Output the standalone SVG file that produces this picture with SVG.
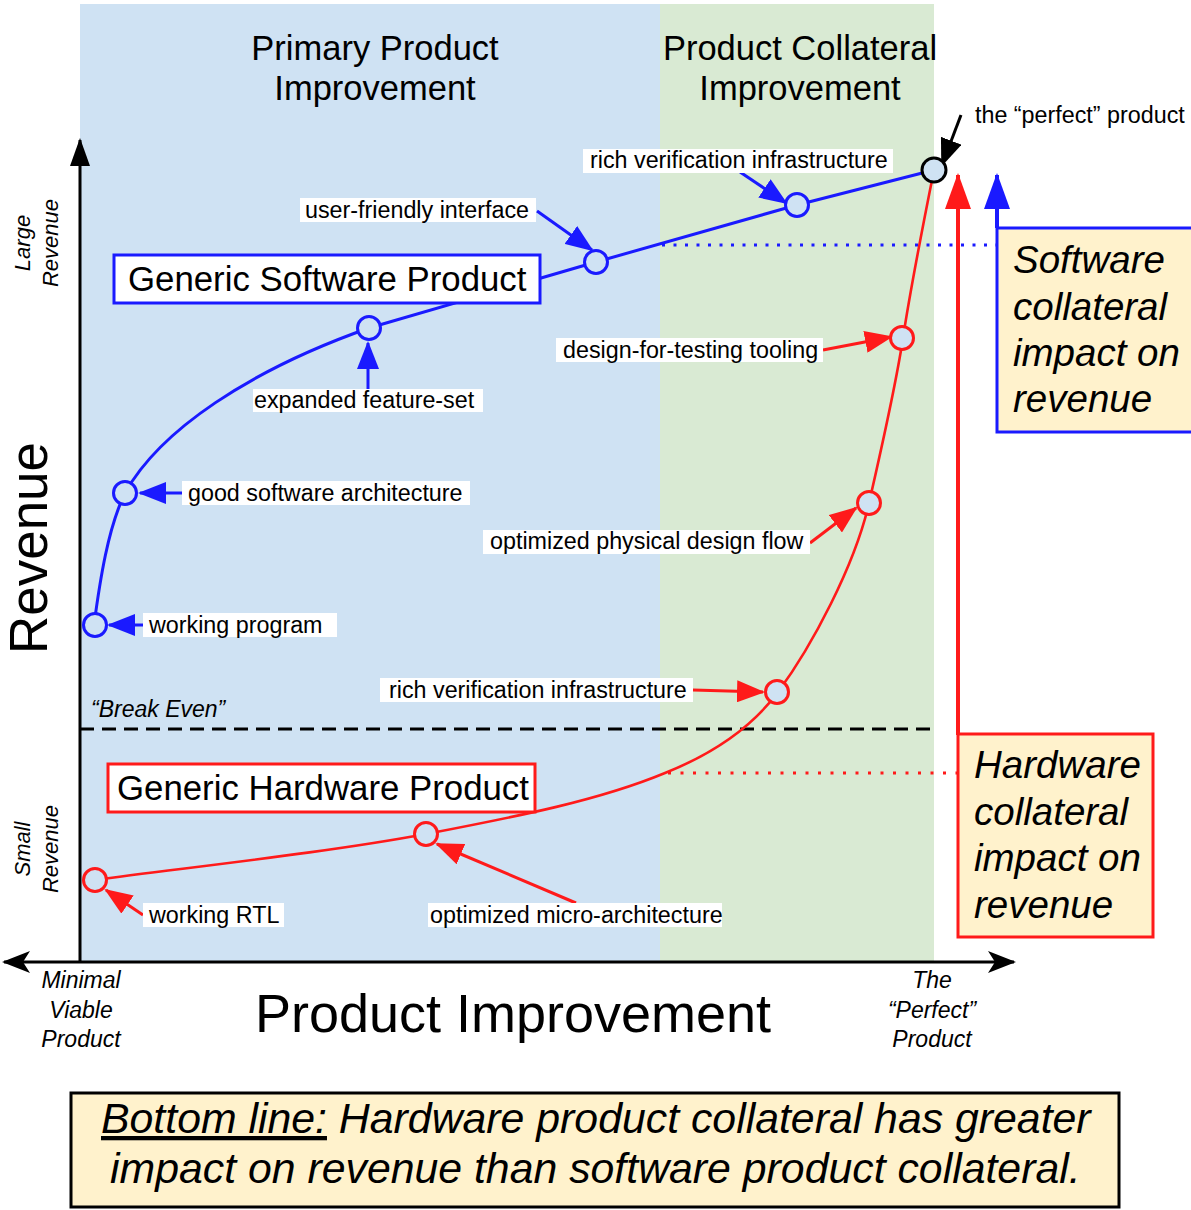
<svg xmlns="http://www.w3.org/2000/svg" width="1191" height="1210" viewBox="0 0 1191 1210">
<style>
text{font-family:"Liberation Sans",Arial,sans-serif;fill:#000}
.lbl{font-size:23.3px}
.lbg{fill:#fff}
.it{font-style:italic}
.title{font-size:34.5px;text-anchor:middle}
.side{font-size:38.5px;font-style:italic}
.small{font-size:22px;font-style:italic;text-anchor:middle}
.bl{stroke:#1a1aff;fill:none;stroke-width:3}
.rd{stroke:#ff1a1a;fill:none;stroke-width:2.6}
.arb{stroke:#1a1aff;stroke-width:3;fill:none;marker-end:url(#ab)}
.arr{stroke:#ff1a1a;stroke-width:3;fill:none;marker-end:url(#ar)}
.ptb{fill:#cfe2f3;stroke:#1a1aff;stroke-width:3}
.ptr{fill:#cfe2f3;stroke:#ff1a1a;stroke-width:3}
</style>
<defs>
<marker id="ab" markerUnits="userSpaceOnUse" viewBox="0 0 28 22" markerWidth="28" markerHeight="22" refX="26" refY="11" orient="auto"><path d="M0,0 L28,11 L0,22 z" fill="#1a1aff"/></marker>
<marker id="ar" markerUnits="userSpaceOnUse" viewBox="0 0 28 22" markerWidth="28" markerHeight="22" refX="26" refY="11" orient="auto"><path d="M0,0 L28,11 L0,22 z" fill="#ff1a1a"/></marker>
<marker id="ak" markerUnits="userSpaceOnUse" viewBox="0 0 28 22" markerWidth="28" markerHeight="22" refX="26" refY="11" orient="auto"><path d="M0,0 L28,11 L0,22 z" fill="#000"/></marker>
<marker id="bigb" markerUnits="userSpaceOnUse" viewBox="0 0 36 26" markerWidth="36" markerHeight="26" refX="34" refY="13" orient="auto"><path d="M0,0 L36,13 L0,26 z" fill="#1a1aff"/></marker>
<marker id="bigr" markerUnits="userSpaceOnUse" viewBox="0 0 36 26" markerWidth="36" markerHeight="26" refX="34" refY="13" orient="auto"><path d="M0,0 L36,13 L0,26 z" fill="#ff1a1a"/></marker>
<marker id="axy" markerUnits="userSpaceOnUse" viewBox="0 0 28 20" markerWidth="28" markerHeight="20" refX="26" refY="10" orient="auto"><path d="M0,0 L28,10 L0,20 z" fill="#000"/></marker>
<marker id="axx" markerUnits="userSpaceOnUse" viewBox="0 0 28 22" markerWidth="28" markerHeight="22" refX="26" refY="11" orient="auto-start-reverse"><path d="M0,0 L28,11 L0,22 L7,11 z" fill="#000"/></marker>
</defs>

<g id="background">
<rect x="80" y="4" width="580" height="958" fill="#cfe2f3"/>
<rect x="660" y="4" width="274" height="958" fill="#d9ead3"/>
</g>

<g id="titles">
<text class="title" x="375" y="60">Primary Product</text>
<text class="title" x="375" y="100">Improvement</text>
<text class="title" x="800" y="60">Product Collateral</text>
<text class="title" x="800" y="100">Improvement</text>
</g>

<g id="axes">
<line x1="80" y1="962" x2="80" y2="140" stroke="#000" stroke-width="3" marker-end="url(#axy)"/>
<line x1="4" y1="962" x2="1014" y2="962" stroke="#000" stroke-width="3" marker-start="url(#axx)" marker-end="url(#axx)"/>
<text x="47" y="548" font-size="53" text-anchor="middle" transform="rotate(-90 47 548)">Revenue</text>
<text class="small" x="30" y="243" transform="rotate(-90 30 243)">Large</text>
<text class="small" x="58" y="243" transform="rotate(-90 58 243)">Revenue</text>
<text class="small" x="30" y="849" transform="rotate(-90 30 849)">Small</text>
<text class="small" x="58" y="849" transform="rotate(-90 58 849)">Revenue</text>
<text x="513" y="1032" font-size="54" text-anchor="middle">Product Improvement</text>
<text class="small" x="81" y="988" style="font-size:23px">Minimal</text>
<text class="small" x="81" y="1018" style="font-size:23px">Viable</text>
<text class="small" x="81" y="1047" style="font-size:23px">Product</text>
<text class="small" x="932" y="988" style="font-size:23px">The</text>
<text class="small" x="932" y="1018" style="font-size:23px">“Perfect”</text>
<text class="small" x="932" y="1047" style="font-size:23px">Product</text>
</g>

<g id="break-even">
<line x1="80" y1="729" x2="934" y2="729" stroke="#000" stroke-width="3" stroke-dasharray="14 8"/>
<text class="it" x="91" y="717" font-size="23">“Break Even”</text>
</g>

<g id="connectors">
<line x1="662" y1="245" x2="997" y2="245" stroke="#1a1aff" stroke-width="3" stroke-dasharray="3 8.5"/>
<line x1="668" y1="773" x2="958" y2="773" stroke="#ff1a1a" stroke-width="3" stroke-dasharray="3 9.5"/>
<path class="bl" d="M94,625 C100,580 108,528 125,493 C160,430 250,370 369,328 L596,262 L797,205 L934,170"/>
<path class="rd" d="M94,880 C200,866 330,852 426,834 C520,816 600,800 665,773 C710,755 750,730 778,692 C812,646 855,565 869,503 C880,455 895,390 903,338 C911,285 925,215 934,170"/>
<line x1="958" y1="735" x2="958" y2="175" stroke="#ff1a1a" stroke-width="4" marker-end="url(#bigr)"/>
<line x1="997" y1="228" x2="997" y2="175" stroke="#1a1aff" stroke-width="4" marker-end="url(#bigb)"/>
<line class="arb" x1="537" y1="211" x2="592" y2="250"/>
<line class="arb" x1="740" y1="172" x2="786" y2="203"/>
<line x1="961" y1="115" x2="942" y2="165" stroke="#000" stroke-width="3" marker-end="url(#ak)"/>
<line class="arr" x1="823" y1="350" x2="891" y2="337"/>
<line class="arb" x1="368" y1="389" x2="368" y2="343"/>
<line class="arb" x1="182" y1="493" x2="140" y2="493"/>
<line class="arr" x1="810" y1="543" x2="856" y2="508"/>
<line class="arb" x1="143" y1="625" x2="109" y2="625"/>
<line class="arr" x1="693" y1="690" x2="763" y2="692"/>
<line class="arr" x1="143" y1="915" x2="106" y2="890"/>
<line class="arr" x1="576" y1="903" x2="437" y2="844"/>
</g>

<g id="software-box">
<rect x="114" y="255" width="426" height="48" fill="#fff" stroke="#1a1aff" stroke-width="3"/>
<text x="128" y="291" font-size="34.8">Generic Software Product</text>
</g>
<g id="hardware-box">
<rect x="108" y="764" width="427" height="48" fill="#fff" stroke="#ff1a1a" stroke-width="3"/>
<text x="117" y="800" font-size="34.8">Generic Hardware Product</text>
</g>

<g id="points">
<circle class="ptb" cx="95" cy="625" r="11.5"/>
<circle class="ptb" cx="125" cy="493" r="11.5"/>
<circle class="ptb" cx="369" cy="328" r="11.5"/>
<circle class="ptb" cx="596" cy="262" r="11.5"/>
<circle class="ptb" cx="797" cy="205" r="11.5"/>
<circle class="ptr" cx="95" cy="880" r="11.5"/>
<circle class="ptr" cx="426" cy="834" r="11.5"/>
<circle class="ptr" cx="777" cy="692" r="11.5"/>
<circle class="ptr" cx="869" cy="503" r="11.5"/>
<circle class="ptr" cx="902" cy="338" r="11.5"/>
<circle cx="934" cy="170" r="12" fill="#cfe2f3" stroke="#000" stroke-width="3"/>
</g>

<g id="label-user-friendly">
<rect class="lbg" x="300" y="198" width="236" height="24"/>
<text class="lbl" x="305" y="218">user-friendly interface</text>
</g>
<g id="label-rich-verification-sw">
<rect class="lbg" x="583" y="149" width="310" height="24"/>
<text class="lbl" x="590" y="168">rich verification infrastructure</text>
</g>
<g id="label-perfect">
<text class="lbl" x="975" y="123">the “perfect” product</text>
</g>
<g id="label-dft">
<rect class="lbg" x="556" y="338" width="267" height="24"/>
<text class="lbl" x="563" y="358">design-for-testing tooling</text>
</g>
<g id="label-expanded">
<rect class="lbg" x="253" y="389" width="230" height="23"/>
<text class="lbl" x="254" y="408">expanded feature-set</text>
</g>
<g id="label-good-arch">
<rect class="lbg" x="182" y="481" width="288" height="24"/>
<text class="lbl" x="188" y="501">good software architecture</text>
</g>
<g id="label-physical">
<rect class="lbg" x="483" y="530" width="327" height="24"/>
<text class="lbl" x="490" y="549">optimized physical design flow</text>
</g>
<g id="label-working-program">
<rect class="lbg" x="143" y="613" width="194" height="24"/>
<text class="lbl" x="149" y="633">working program</text>
</g>
<g id="label-rich-verification-hw">
<rect class="lbg" x="380" y="678" width="313" height="24"/>
<text class="lbl" x="389" y="698">rich verification infrastructure</text>
</g>
<g id="label-working-rtl">
<rect class="lbg" x="143" y="903" width="141" height="24"/>
<text class="lbl" x="149" y="923">working RTL</text>
</g>
<g id="label-micro-arch">
<rect class="lbg" x="428" y="903" width="294" height="24"/>
<text class="lbl" x="430" y="923">optimized micro-architecture</text>
</g>

<g id="software-impact">
<rect x="997" y="228" width="200" height="204" fill="#fff2cc" stroke="#1a1aff" stroke-width="3"/>
<text class="side" x="1013" y="273">Software</text>
<text class="side" x="1013" y="320">collateral</text>
<text class="side" x="1013" y="366">impact on</text>
<text class="side" x="1013" y="412">revenue</text>
</g>
<g id="hardware-impact">
<rect x="958" y="734" width="195" height="203" fill="#fff2cc" stroke="#ff1a1a" stroke-width="3"/>
<text class="side" x="974" y="778">Hardware</text>
<text class="side" x="974" y="825">collateral</text>
<text class="side" x="974" y="871">impact on</text>
<text class="side" x="974" y="918">revenue</text>
</g>

<g id="bottom-line">
<rect x="71" y="1093" width="1048" height="114" fill="#fff2cc" stroke="#000" stroke-width="3"/>
<text class="it" x="101" y="1133" font-size="42.8"><tspan text-decoration="underline">Bottom line:</tspan> Hardware product collateral has greater</text>
<text class="it" x="110" y="1183" font-size="42.8">impact on revenue than software product collateral.</text>
</g>
</svg>
